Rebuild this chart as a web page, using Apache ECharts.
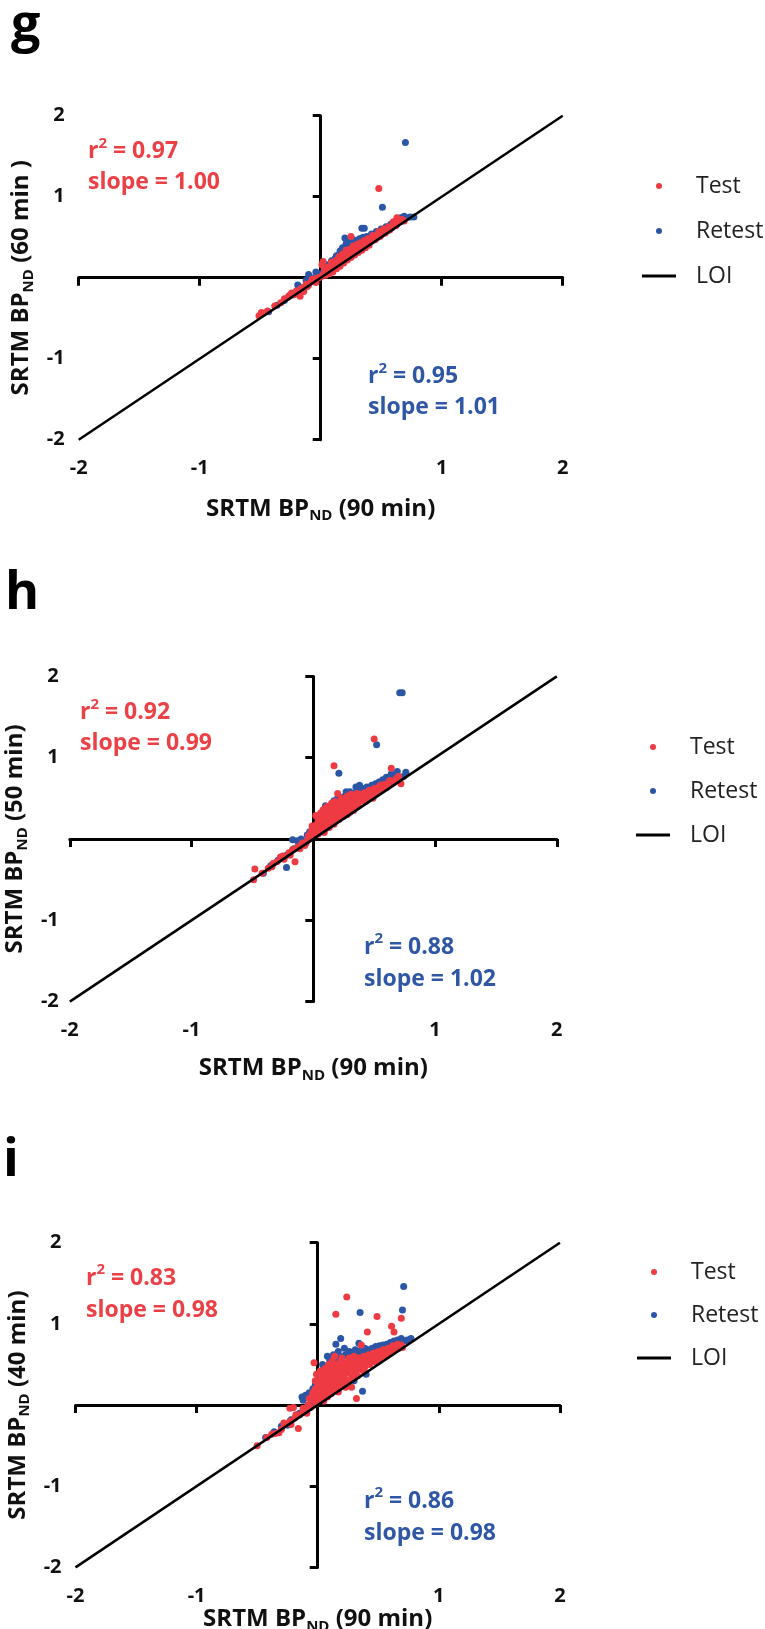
<!DOCTYPE html>
<html>
<head>
<meta charset="utf-8">
<script src="https://cdn.jsdelivr.net/npm/echarts@6/dist/echarts.min.js"></script>
<style>
  html, body { margin: 0; padding: 0; background: #ffffff; }
  #chart { width: 765px; height: 1629px; }
</style>
</head>
<body>
<div id="chart"></div>
<script>
// ---- data -------------------------------------------------------------
const panelLetters = ['g', 'h', 'i'];
const yDurations = ['(60 min )', '(50 min)', '(40 min)'];
const xDuration = '(90 min)';
const seriesNames = ['Test', 'Retest', 'LOI'];
const axisMin = -2, axisMax = 2, axisStep = 1;
const loiLine = [[-2, -2], [2, 2]];

// r² and slope per panel: [r2, slope]
const statsTest = [['0.97', '1.00'], ['0.92', '0.99'], ['0.83', '0.98']];
const statsRetest = [['0.95', '1.01'], ['0.88', '1.02'], ['0.86', '0.98']];

// SRTM BPnd, 90 min (x) vs shortened scan (y)
const gTest = [
  [-0.51,-0.47],[-0.49,-0.43],[-0.44,-0.41],[-0.38,-0.35],[-0.33,-0.31],[-0.30,-0.26],[-0.27,-0.24],
  [-0.24,-0.19],[-0.22,-0.21],[-0.20,-0.16],[-0.17,-0.23],[-0.16,-0.13],[-0.14,-0.17],[-0.14,-0.12],
  [-0.12,-0.08],[-0.10,-0.09],[-0.08,-0.05],[-0.06,-0.04],[-0.04,-0.01],[-0.02,0.00],[0.00,0.01],
  [0.01,0.16],[0.02,0.20],[0.02,0.04],[0.03,0.07],[0.04,0.03],[0.05,0.09],[0.06,0.06],[0.07,0.12],
  [0.08,0.09],[0.09,0.15],[0.10,0.11],[0.11,0.17],[0.12,0.14],[0.13,0.20],[0.14,0.16],[0.15,0.22],
  [0.16,0.19],[0.17,0.25],[0.18,0.21],[0.19,0.27],[0.20,0.23],[0.21,0.30],[0.22,0.26],[0.23,0.32],
  [0.24,0.28],[0.25,0.51],[0.26,0.34],[0.27,0.30],[0.29,0.37],[0.30,0.33],[0.32,0.40],[0.33,0.36],
  [0.35,0.42],[0.36,0.39],[0.38,0.45],[0.39,0.42],[0.41,0.47],[0.42,0.45],[0.44,0.50],[0.45,0.47],
  [0.47,0.53],[0.48,1.10],[0.49,0.51],[0.51,0.56],[0.53,0.55],[0.55,0.60],[0.57,0.59],[0.59,0.64],
  [0.61,0.66],[0.63,0.74],[0.65,0.69],[0.67,0.72],[0.69,0.70],
  [0.03,0.11],[0.05,0.13],[0.07,0.05],[0.09,0.19],[0.10,0.07],[0.12,0.21],[0.13,0.11],[0.15,0.26],
  [0.16,0.14],[0.18,0.29],[0.19,0.18],[0.21,0.34],[0.22,0.22],[0.24,0.35],[0.25,0.25],[0.27,0.39],
  [0.28,0.28],[0.30,0.41],[0.31,0.31],[0.33,0.43],[0.34,0.34],[0.36,0.46],[0.37,0.37],[0.39,0.48],
  [0.40,0.40],[0.43,0.52],[0.46,0.49],[0.48,0.57],[0.50,0.53],[0.52,0.60],[0.54,0.57],[0.56,0.63],
  [0.58,0.61],[0.60,0.69],[0.62,0.64],[0.64,0.70],[-0.04,-0.06],[-0.07,-0.02],[-0.11,-0.11],
  [-0.18,-0.18],[-0.26,-0.22]
];
const gRetest = [
  [-0.43,-0.42],[-0.36,-0.34],[-0.30,-0.28],[-0.25,-0.22],[-0.20,-0.18],[-0.19,-0.09],[-0.15,-0.12],
  [-0.10,0.04],[-0.10,-0.08],[-0.06,-0.02],[-0.03,0.03],[0.00,0.05],[0.03,0.09],[0.06,0.12],
  [0.08,0.16],[0.10,0.20],[0.12,0.24],[0.14,0.22],[0.15,0.28],[0.17,0.30],[0.19,0.33],[0.20,0.49],
  [0.22,0.46],[0.23,0.36],[0.24,0.42],[0.26,0.39],[0.28,0.40],[0.30,0.38],[0.31,0.44],[0.33,0.40],
  [0.34,0.61],[0.36,0.61],[0.37,0.46],[0.39,0.44],[0.41,0.50],[0.43,0.47],[0.45,0.53],[0.47,0.50],
  [0.49,0.56],[0.51,0.87],[0.51,0.55],[0.53,0.60],[0.55,0.58],[0.57,0.64],[0.59,0.62],[0.61,0.68],
  [0.63,0.66],[0.65,0.71],[0.67,0.70],[0.69,0.76],[0.70,1.67],[0.71,0.74],[0.74,0.75],[0.77,0.75],
  [0.05,0.16],[0.09,0.21],[0.13,0.27],[0.16,0.33],[0.18,0.37],[0.21,0.42],[0.25,0.44],[0.27,0.47],
  [0.29,0.45],[0.32,0.48],[0.35,0.50],[0.38,0.51],[0.42,0.54],[0.46,0.57],[0.50,0.60],[0.54,0.63],
  [0.58,0.66],[0.62,0.70],[0.66,0.74],[-0.12,-0.03],[-0.08,0.00],[-0.04,0.07]
];
const hTest = [
  [-0.49,-0.50],[-0.48,-0.37],[-0.42,-0.42],[-0.37,-0.36],[-0.34,-0.34],[-0.30,-0.28],[-0.27,-0.22],
  [-0.24,-0.25],[-0.20,-0.17],[-0.15,-0.28],[-0.17,-0.13],[-0.13,-0.10],[-0.11,-0.12],[-0.09,-0.05],
  [-0.07,-0.08],[-0.05,-0.02],[-0.03,0.02],[-0.01,0.16],[0.00,0.05],[0.02,0.29],[0.02,0.08],
  [0.03,0.12],[0.04,0.06],[0.05,0.20],[0.06,0.14],[0.07,0.10],[0.08,0.27],[0.09,0.18],[0.10,0.13],
  [0.10,0.33],[0.11,0.22],[0.12,0.17],[0.13,0.38],[0.13,0.27],[0.14,0.20],[0.15,0.44],[0.15,0.30],
  [0.16,0.23],[0.17,0.90],[0.17,0.35],[0.18,0.26],[0.19,0.42],[0.20,0.56],[0.20,0.30],[0.21,0.37],
  [0.22,0.46],[0.23,0.33],[0.24,0.40],[0.25,0.28],[0.26,0.48],[0.27,0.36],[0.28,0.53],[0.29,0.42],
  [0.30,0.33],[0.31,0.47],[0.33,0.39],[0.34,0.52],[0.36,0.44],[0.38,0.55],[0.40,0.47],[0.42,0.57],
  [0.44,0.50],[0.46,0.60],[0.48,0.53],[0.50,1.23],[0.50,0.62],[0.52,0.56],[0.54,0.64],[0.56,0.60],
  [0.58,0.67],[0.60,0.63],[0.62,0.70],[0.64,0.87],[0.65,0.69],[0.68,0.74],[0.70,0.77],[0.72,0.68],
  [0.01,0.12],[0.03,0.18],[0.04,0.24],[0.05,0.10],[0.06,0.32],[0.07,0.22],[0.08,0.36],[0.09,0.08],
  [0.10,0.26],[0.11,0.40],[0.12,0.30],[0.13,0.14],[0.14,0.34],[0.15,0.24],[0.16,0.40],[0.17,0.18],
  [0.18,0.46],[0.18,0.32],[0.20,0.38],[0.21,0.24],[0.22,0.42],[0.23,0.50],[0.24,0.31],[0.25,0.44],
  [0.26,0.36],[0.27,0.50],[0.28,0.30],[0.29,0.47],[0.30,0.38],[0.31,0.55],[0.32,0.43],[0.33,0.35],
  [0.35,0.48],[0.36,0.56],[0.37,0.41],[0.39,0.50],[0.41,0.52],[0.43,0.46],[0.45,0.55],[0.47,0.58],
  [0.49,0.50],[0.51,0.60],[0.53,0.58],[0.55,0.66],[0.57,0.62],[0.59,0.65],[0.61,0.67],[0.63,0.72],
  [0.66,0.70],[0.69,0.72],[-0.02,0.09],[-0.04,0.04],[-0.06,-0.05],[-0.10,-0.07],[-0.19,-0.20],
  [-0.25,-0.21],[-0.33,-0.30]
];
const hRetest = [
  [-0.41,-0.42],[-0.35,-0.33],[-0.29,-0.26],[-0.22,-0.35],[-0.22,-0.20],[-0.17,-0.01],[-0.16,-0.12],
  [-0.12,-0.07],[-0.10,0.00],[-0.07,-0.04],[-0.03,0.09],[-0.03,0.00],[0.01,0.05],[0.04,0.10],
  [0.07,0.15],[0.10,0.41],[0.10,0.20],[0.13,0.25],[0.16,0.30],[0.19,0.44],[0.19,0.35],[0.21,0.81],
  [0.22,0.40],[0.24,0.49],[0.26,0.44],[0.28,0.46],[0.30,0.58],[0.32,0.50],[0.35,0.64],[0.36,0.53],
  [0.38,0.66],[0.40,0.56],[0.43,0.58],[0.46,0.60],[0.49,0.62],[0.52,1.16],[0.52,0.65],[0.55,0.66],
  [0.58,0.70],[0.61,0.72],[0.63,0.75],[0.66,0.78],[0.69,0.83],[0.71,1.80],[0.73,1.80],[0.74,0.77],
  [0.76,0.82],
  [0.02,0.17],[0.05,0.25],[0.08,0.32],[0.12,0.38],[0.14,0.30],[0.17,0.47],[0.20,0.50],[0.23,0.44],
  [0.25,0.52],[0.27,0.58],[0.29,0.54],[0.33,0.56],[0.37,0.60],[0.41,0.62],[0.44,0.64],[0.48,0.66],
  [0.51,0.68],[0.54,0.70],[0.57,0.73],[0.60,0.76],[0.64,0.80],[0.68,0.78],[-0.05,0.05],[-0.13,-0.02]
];
const iTest = [
  [-0.50,-0.50],[-0.42,-0.40],[-0.35,-0.35],[-0.30,-0.30],[-0.27,-0.24],[-0.23,-0.20],[-0.23,-0.04],
  [-0.20,-0.03],[-0.19,-0.16],[-0.16,-0.29],[-0.15,-0.12],[-0.12,-0.09],[-0.10,-0.06],[-0.08,0.00],
  [-0.06,-0.03],[-0.05,0.10],[-0.03,0.52],[-0.03,0.05],[-0.02,0.20],[-0.01,0.02],[0.00,0.12],
  [0.01,0.30],[0.02,0.07],[0.03,0.22],[0.04,0.14],[0.05,0.38],[0.05,0.05],[0.06,0.27],[0.07,0.18],
  [0.08,0.44],[0.08,0.10],[0.09,0.32],[0.10,0.22],[0.11,0.50],[0.11,0.14],[0.12,0.38],[0.13,0.27],
  [0.14,0.19],[0.15,1.12],[0.15,0.44],[0.16,0.32],[0.17,0.23],[0.18,0.52],[0.19,0.40],[0.19,0.54],
  [0.20,0.28],[0.21,0.47],[0.22,0.35],[0.23,0.22],[0.24,1.33],[0.24,0.50],[0.25,0.40],[0.26,0.30],
  [0.27,0.56],[0.28,0.45],[0.29,0.36],[0.30,0.52],[0.31,0.40],[0.32,0.08],[0.33,0.48],[0.34,0.58],
  [0.35,0.44],[0.36,0.74],[0.37,0.52],[0.39,0.47],[0.41,0.90],[0.41,0.56],[0.43,0.50],[0.45,0.58],
  [0.47,0.53],[0.49,1.09],[0.49,0.61],[0.51,0.56],[0.53,0.63],[0.55,0.60],[0.57,0.66],[0.59,0.64],
  [0.61,0.97],[0.61,0.69],[0.63,0.90],[0.63,0.67],[0.65,0.72],[0.67,0.70],[0.69,1.07],[0.69,0.74],
  [0.70,0.71],
  [-0.04,0.15],[-0.02,0.30],[-0.01,0.38],[0.00,0.24],[0.01,0.16],[0.02,0.42],[0.03,0.33],[0.04,0.06],
  [0.05,0.26],[0.06,0.45],[0.06,0.12],[0.07,0.36],[0.08,0.24],[0.09,0.50],[0.10,0.16],[0.10,0.42],
  [0.11,0.30],[0.12,0.54],[0.12,0.20],[0.13,0.46],[0.14,0.34],[0.14,0.60],[0.15,0.25],[0.16,0.50],
  [0.17,0.38],[0.17,0.16],[0.18,0.30],[0.20,0.44],[0.20,0.58],[0.21,0.34],[0.22,0.24],[0.23,0.52],
  [0.24,0.42],[0.25,0.30],[0.26,0.58],[0.27,0.48],[0.28,0.34],[0.28,0.22],[0.30,0.44],[0.30,0.60],
  [0.32,0.50],[0.33,0.36],[0.34,0.46],[0.36,0.55],[0.38,0.42],[0.38,0.60],[0.40,0.50],[0.42,0.62],
  [0.44,0.54],[0.46,0.64],[0.48,0.57],[0.50,0.66],[0.52,0.60],[0.54,0.68],[0.56,0.63],[0.58,0.70],
  [0.60,0.67],[0.62,0.73],[0.64,0.70],[0.66,0.75],[0.68,0.72],[-0.12,-0.04],[-0.09,-0.10],
  [-0.07,0.08],[-0.18,-0.12],[-0.22,-0.24],[-0.28,-0.22],[-0.32,-0.34],[-0.38,-0.36]
];
const iRetest = [
  [-0.43,-0.40],[-0.36,-0.33],[-0.30,-0.26],[-0.25,-0.25],[-0.22,-0.18],[-0.13,0.10],[-0.12,0.06],
  [-0.15,-0.10],[-0.10,-0.05],[-0.07,0.15],[-0.05,0.00],[-0.02,0.25],[0.00,0.08],[0.03,0.15],
  [0.05,0.45],[0.06,0.20],[0.09,0.30],[0.10,0.55],[0.12,0.35],[0.15,0.75],[0.15,0.42],[0.18,0.58],
  [0.19,0.82],[0.20,0.45],[0.23,0.62],[0.25,0.50],[0.28,0.65],[0.30,0.55],[0.33,0.60],[0.34,0.76],
  [0.35,1.14],[0.35,0.65],[0.37,0.17],[0.38,0.66],[0.40,0.60],[0.43,0.62],[0.46,0.64],[0.49,0.66],
  [0.52,0.68],[0.55,0.70],[0.58,0.70],[0.61,0.73],[0.64,0.76],[0.67,0.78],[0.70,1.17],[0.71,1.46],
  [0.72,0.79],[0.74,0.80],[0.77,0.82],
  [0.00,0.30],[0.02,0.40],[0.04,0.50],[0.07,0.35],[0.08,0.60],[0.11,0.45],[0.13,0.62],[0.16,0.55],
  [0.17,0.66],[0.21,0.60],[0.22,0.70],[0.26,0.66],[0.29,0.62],[0.31,0.68],[0.36,0.68],[0.39,0.70],
  [0.42,0.68],[0.45,0.70],[0.48,0.72],[0.51,0.73],[0.54,0.74],[0.57,0.75],[0.60,0.77],[0.63,0.79],
  [0.66,0.80],[0.69,0.82],[0.30,0.30],[0.40,0.38],[-0.04,0.20],[-0.10,0.12],[-0.08,-0.02]
];
const testSets = [gTest, hTest, iTest];
const retestSets = [gRetest, hRetest, iRetest];

// ---- layout & style ---------------------------------------------------
const RED = '#ee3b43', BLUE = '#2b56a6', RED_TXT = '#eb4046', BLUE_TXT = '#2f57a6';
const FONT = 'Open Sans';

const layout = [
  { grid: { left: 78.7, top: 115.7, width: 484, height: 324 },
    letter: [11, 0], legend: [637, 169, 21], xGap: 54, yGap: 28, yLabelMargin: 14,
    statTest: [88, 136], statRetest: [368, 361], statLH: [31, 31] },
  { grid: { left: 69.8, top: 676.4, width: 487, height: 325.2 },
    letter: [5, 568], legend: [631, 730, 20], xGap: 52, yGap: 25, yLabelMargin: 11,
    statTest: [80, 697], statRetest: [364, 931], statLH: [31, 32] },
  { grid: { left: 75.5, top: 1242.7, width: 484.4, height: 324.7 },
    letter: [3, 1135], legend: [632, 1255, 19], xGap: 23, yGap: 28, yLabelMargin: 14,
    statTest: [86, 1262], statRetest: [364, 1485], statLH: [32, 32] }
];

function titleRich() {
  return {
    m: { fontFamily: FONT, fontWeight: 'bold', fontSize: 24, lineHeight: 30, color: '#111' },
    s: { fontFamily: FONT, fontWeight: 'bold', fontSize: 15, lineHeight: 14, verticalAlign: 'bottom', color: '#111' }
  };
}

function statText(pair, x, y, color, lh) {
  return {
    type: 'text', left: x, top: y, silent: true,
    style: {
      text: '{m|r}{s|2}{m| = ' + pair[0] + '}\n{m|slope = ' + pair[1] + '}',
      rich: {
        m: { fontFamily: FONT, fontWeight: 'bold', fontSize: 23, lineHeight: lh, fill: color },
        s: { fontFamily: FONT, fontWeight: 'bold', fontSize: 15, lineHeight: 11, verticalAlign: 'top', fill: color }
      }
    }
  };
}

const option = {
  animation: false,
  backgroundColor: '#ffffff',
  grid: layout.map(L => Object.assign({ containLabel: false, outerBoundsMode: 'none' }, L.grid)),
  xAxis: layout.map((L, i) => ({
    type: 'value', gridIndex: i, min: axisMin, max: axisMax, interval: axisStep,
    axisLine: { onZero: true, lineStyle: { color: '#000', width: 3 } },
    axisTick: { length: 8, lineStyle: { color: '#000', width: 3 } },
    splitLine: { show: false },
    axisLabel: {
      margin: 19, fontFamily: FONT, fontWeight: 'bold', fontSize: 20, color: '#111',
      formatter: v => (v === 0 ? '' : String(v))
    },
    name: '{m|SRTM BP}{s|ND}{m| ' + xDuration + '}',
    nameLocation: 'middle', nameGap: L.xGap,
    nameTextStyle: { rich: titleRich() }
  })),
  yAxis: layout.map((L, i) => ({
    type: 'value', gridIndex: i, min: axisMin, max: axisMax, interval: axisStep,
    axisLine: { onZero: true, lineStyle: { color: '#000', width: 3 } },
    axisTick: { length: 8, lineStyle: { color: '#000', width: 3 } },
    splitLine: { show: false },
    axisLabel: {
      margin: L.yLabelMargin, fontFamily: FONT, fontWeight: 'bold', fontSize: 20, color: '#111',
      formatter: v => (v === 0 ? '' : String(v))
    },
    name: '{m|SRTM BP}{s|ND}{m| ' + yDurations[i] + '}',
    nameLocation: 'middle', nameGap: L.yGap, nameRotate: 90,
    nameTextStyle: { rich: titleRich() }
  })),
  legend: layout.map(L => ({
    orient: 'vertical', left: L.legend[0], top: L.legend[1], itemGap: L.legend[2],
    itemWidth: 34, itemHeight: 6, selectedMode: false,
    data: [seriesNames[0], seriesNames[1], { name: seriesNames[2], icon: 'path://M0 0H34V3H0Z' }],
    textStyle: { fontFamily: FONT, fontSize: 23, color: '#222', lineHeight: 24, padding: [0, 0, 0, 15] }
  })),
  series: [],
  graphic: []
};

layout.forEach((L, i) => {
  option.series.push({
    name: seriesNames[2], type: 'line', xAxisIndex: i, yAxisIndex: i,
    data: loiLine, symbol: 'none', showSymbol: false, silent: true,
    lineStyle: { color: '#000', width: 2.5 }, itemStyle: { color: '#000' }
  });
  option.series.push({
    name: seriesNames[1], type: 'scatter', xAxisIndex: i, yAxisIndex: i,
    data: retestSets[i], symbol: 'circle', symbolSize: 7, itemStyle: { color: BLUE, opacity: 1 }
  });
  option.series.push({
    name: seriesNames[0], type: 'scatter', xAxisIndex: i, yAxisIndex: i,
    data: testSets[i], symbol: 'circle', symbolSize: 7, itemStyle: { color: RED, opacity: 1 }
  });
  option.graphic.push({
    type: 'text', left: L.letter[0], top: L.letter[1], silent: true,
    style: { text: panelLetters[i], fontFamily: FONT, fontWeight: 'bold', fontSize: 52, fill: '#000' }
  });
  option.graphic.push(statText(statsTest[i], L.statTest[0], L.statTest[1], RED_TXT, L.statLH[0]));
  option.graphic.push(statText(statsRetest[i], L.statRetest[0], L.statRetest[1], BLUE_TXT, L.statLH[1]));
});

const chart = echarts.init(document.getElementById('chart'), null, { renderer: 'canvas' });
chart.setOption(option);
</script>
</body>
</html>
